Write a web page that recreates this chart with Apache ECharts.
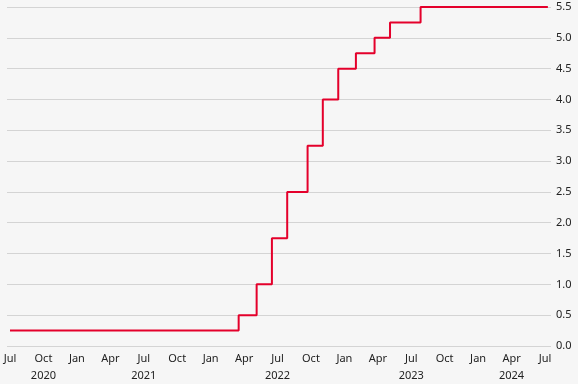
<!DOCTYPE html>
<html><head><meta charset="utf-8">
<script src="https://cdn.jsdelivr.net/npm/echarts@6/dist/echarts.min.js"></script>
<style>html,body{margin:0;padding:0;background:#f6f6f6;}#c{width:578px;height:384px;}</style>
</head><body><div id="c"></div>
<script>
// Policy rate (upper bound), change dates and new values
const changeDates = ['2020-07-01','2022-03-17','2022-05-05','2022-06-16','2022-07-28','2022-09-22','2022-11-03','2022-12-15','2023-02-02','2023-03-23','2023-05-04','2023-07-27','2024-07-09'];
const rateValues  = [0.25, 0.50, 1.00, 1.75, 2.50, 3.25, 4.00, 4.50, 4.75, 5.00, 5.25, 5.50, 5.50];
const monthNames = ['Jan','Feb','Mar','Apr','May','Jun','Jul','Aug','Sep','Oct','Nov','Dec'];
const yearLabels = {'2020-10':'2020','2021-07':'2021','2022-07':'2022','2023-07':'2023','2024-04':'2024'};

const startY = 2020, startM = 6; // July 2020 (0-based month)
function toMonthIndex(s){
  const [y,m,d] = s.split('-').map(Number);
  const dim = new Date(y, m, 0).getDate();
  return (y-startY)*12 + (m-1-startM) + (d-1)/dim;
}
const data = changeDates.map((d,i)=>[toMonthIndex(d), rateValues[i]]);
const tickVals = []; for(let i=0;i<=48;i+=3) tickVals.push(i);

const chart = echarts.init(document.getElementById('c'), null, {renderer:'canvas'});
chart.setOption({
  backgroundColor:'#f6f6f6',
  animation:false,
  textStyle:{fontFamily:'Noto Sans'},
  grid:{left:7,right:27,top:7,bottom:38,outerBoundsMode:'none',containLabel:false},
  xAxis:{
    type:'value', min:-0.269, max:48.54,
    splitLine:{show:false},
    axisLine:{show:false}, axisTick:{show:false},
    axisLabel:{
      customValues: tickVals,
      color:'#222', fontSize:11, lineHeight:17, margin:4,
      formatter:function(v){
        const mi = Math.round(v);
        const tot = startM + mi;
        const y = startY + Math.floor(tot/12), m = tot%12;
        const key = y+'-'+String(m+1).padStart(2,'0');
        const yl = yearLabels[key];
        return monthNames[m] + (yl ? '\n'+yl : '\n ');
      }
    }
  },
  yAxis:{
    type:'value', position:'right', min:0, max:5.5, interval:0.5,
    axisLine:{show:false}, axisTick:{show:false},
    splitLine:{lineStyle:{color:'#d4d4d4',width:1}},
    axisLabel:{color:'#222',fontSize:11,margin:5,formatter:v=>v.toFixed(1)}
  },
  series:[{
    type:'line', step:'end', data:data, showSymbol:false,
    lineStyle:{color:'#e4002b',width:2}
  }]
});
</script></body></html>
